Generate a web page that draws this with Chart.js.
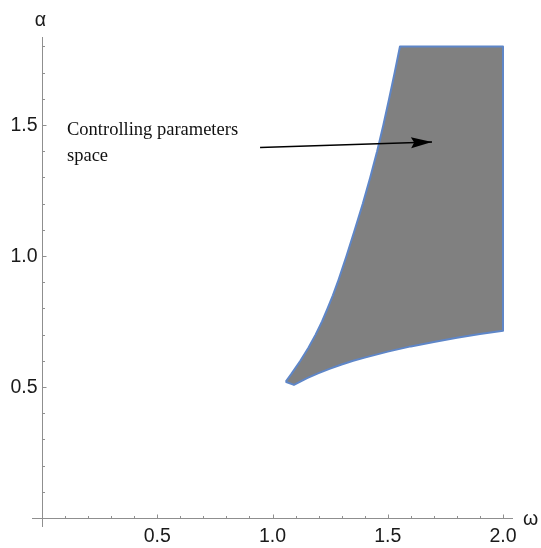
<!DOCTYPE html>
<html>
<head>
<meta charset="utf-8">
<script src="https://cdn.jsdelivr.net/npm/chart.js@4/dist/chart.umd.min.js"></script>
<style>
  html, body { margin: 0; padding: 0; background: #fff; }
  #wrap { width: 541px; height: 548px; position: relative; }
</style>
</head>
<body>
<div id="wrap"><canvas id="region"></canvas></div>
<script>
// controlling parameters space (ω, α)
// left boundary, top -> tip
const leftOmega = [1.553, 1.530, 1.506, 1.481, 1.454, 1.424, 1.392, 1.357, 1.321, 1.283, 1.262, 1.239, 1.215, 1.187, 1.156, 1.121, 1.082, 1.057];
const leftAlpha = [1.80, 1.70, 1.60, 1.50, 1.40, 1.30, 1.20, 1.10, 1.00, 0.90, 0.85, 0.80, 0.75, 0.70, 0.65, 0.60, 0.55, 0.52];
// lower boundary, tip -> right edge
const lowerOmega = [1.057, 1.093, 1.150, 1.200, 1.250, 1.300, 1.350, 1.400, 1.500, 1.600, 1.700, 1.800, 1.900, 2.0];
const lowerAlpha = [0.520, 0.508, 0.534, 0.553, 0.570, 0.586, 0.600, 0.612, 0.635, 0.655, 0.672, 0.688, 0.702, 0.715];
const topAlpha = 1.80;
const rightOmega = 2.0;

// arrow (tail -> head)
const arrowOmega = [0.946, 1.692];
const arrowAlpha = [1.414, 1.435];

// ticks
const xMajor = [0.5, 1.0, 1.5, 2.0];
const xMinor = [0.1, 0.2, 0.3, 0.4, 0.6, 0.7, 0.8, 0.9, 1.1, 1.2, 1.3, 1.4, 1.6, 1.7, 1.8, 1.9];
const yMajor = [0.5, 1.0, 1.5];
const yMinor = [0.1, 0.2, 0.3, 0.4, 0.6, 0.7, 0.8, 0.9, 1.1, 1.2, 1.3, 1.4, 1.6, 1.7, 1.8];
const xTickLabels = ["0.5", "1.0", "1.5", "2.0"];
const yTickLabels = ["0.5", "1.0", "1.5"];

const COL = { fill: "#808080", edge: "#5e86c8", axis: "#8f8f8f", text: "#1a1a1a" };

// closed polygon: lower curve, right edge, top edge, left curve back to tip
const poly = [];
lowerOmega.forEach((w, i) => poly.push({ x: w, y: lowerAlpha[i] }));
poly.push({ x: rightOmega, y: topAlpha });
leftOmega.forEach((w, i) => poly.push({ x: w, y: leftAlpha[i] }));

const arrowPts = arrowOmega.map((w, i) => ({ x: w, y: arrowAlpha[i] }));

// Mathematica-like axes through the origin, ticks pointing inward
const axesPlugin = {
  id: "axes",
  beforeDatasetsDraw(chart) {
    const { ctx, chartArea: a, scales: { x, y } } = chart;
    const x0 = Math.round(x.getPixelForValue(0)) + 0.5;
    const y0 = Math.round(y.getPixelForValue(0)) + 0.5;
    ctx.save();
    ctx.strokeStyle = COL.axis;
    ctx.lineWidth = 1;
    ctx.beginPath();
    ctx.moveTo(a.left, y0); ctx.lineTo(a.right, y0);
    ctx.moveTo(x0, a.top); ctx.lineTo(x0, a.bottom);
    xMajor.forEach(v => { const p = Math.round(x.getPixelForValue(v)) + 0.5; ctx.moveTo(p, y0); ctx.lineTo(p, y0 - 4); });
    xMinor.forEach(v => { const p = Math.round(x.getPixelForValue(v)) + 0.5; ctx.moveTo(p, y0); ctx.lineTo(p, y0 - 2.5); });
    yMajor.forEach(v => { const p = Math.round(y.getPixelForValue(v)) + 0.5; ctx.moveTo(x0, p); ctx.lineTo(x0 + 4, p); });
    yMinor.forEach(v => { const p = Math.round(y.getPixelForValue(v)) + 0.5; ctx.moveTo(x0, p); ctx.lineTo(x0 + 2.5, p); });
    ctx.stroke();

    ctx.fillStyle = COL.text;
    ctx.font = "19.5px 'Liberation Sans', Arial, sans-serif";
    ctx.textAlign = "center"; ctx.textBaseline = "alphabetic";
    xMajor.forEach((v, i) => ctx.fillText(xTickLabels[i], x.getPixelForValue(v), y0 + 23));
    ctx.textAlign = "right"; ctx.textBaseline = "middle";
    yMajor.forEach((v, i) => ctx.fillText(yTickLabels[i], x0 - 5, y.getPixelForValue(v) + 1));

    // axis names
    ctx.textAlign = "center";
    ctx.fillText("α", x0 - 2, a.top - 16);
    ctx.textAlign = "left";
    ctx.fillText("ω", a.right + 10, y0 + 1);
    ctx.restore();
  },
  afterDatasetsDraw(chart) {
    const { ctx, scales: { x, y } } = chart;
    // arrow head
    const tx = x.getPixelForValue(arrowOmega[1]), ty = y.getPixelForValue(arrowAlpha[1]);
    const fx = x.getPixelForValue(arrowOmega[0]), fy = y.getPixelForValue(arrowAlpha[0]);
    const ang = Math.atan2(ty - fy, tx - fx);
    const len = 21, half = 5.5;
    ctx.save();
    ctx.translate(tx, ty); ctx.rotate(ang);
    ctx.fillStyle = "#000";
    ctx.beginPath();
    ctx.moveTo(0, 0);
    ctx.lineTo(-len, -half);
    ctx.lineTo(-len * 0.85, 0);
    ctx.lineTo(-len, half);
    ctx.closePath();
    ctx.fill();
    ctx.restore();

    // annotation text
    ctx.save();
    ctx.fillStyle = "#111";
    ctx.font = "18.5px 'Liberation Serif', 'Times New Roman', serif";
    ctx.textAlign = "left"; ctx.textBaseline = "alphabetic";
    ctx.fillText("Controlling parameters", 67, 135);
    ctx.fillText("space", 67, 161);
    ctx.restore();
  },
};

new Chart(document.getElementById("region"), {
  type: "scatter",
  data: {
    datasets: [
      {
        data: poly, showLine: true, fill: "shape", tension: 0, order: 2,
        backgroundColor: COL.fill, borderColor: COL.edge, borderWidth: 2,
        borderJoinStyle: "round", pointRadius: 0, pointHoverRadius: 0,
      },
      {
        data: arrowPts, showLine: true, fill: false, order: 1,
        borderColor: "#000", borderWidth: 1.6, pointRadius: 0, pointHoverRadius: 0,
      },
    ],
  },
  options: {
    responsive: true, maintainAspectRatio: false, animation: false,
    layout: { padding: { left: 32, right: 28, top: 37, bottom: 21 } },
    plugins: { legend: { display: false }, tooltip: { enabled: false } },
    events: [],
    scales: {
      x: { type: "linear", display: false, min: -0.0434, max: 2.0434 },
      y: { type: "linear", display: false, min: -0.0344, max: 1.836 },
    },
  },
  plugins: [axesPlugin],
});
</script>
</body>
</html>
